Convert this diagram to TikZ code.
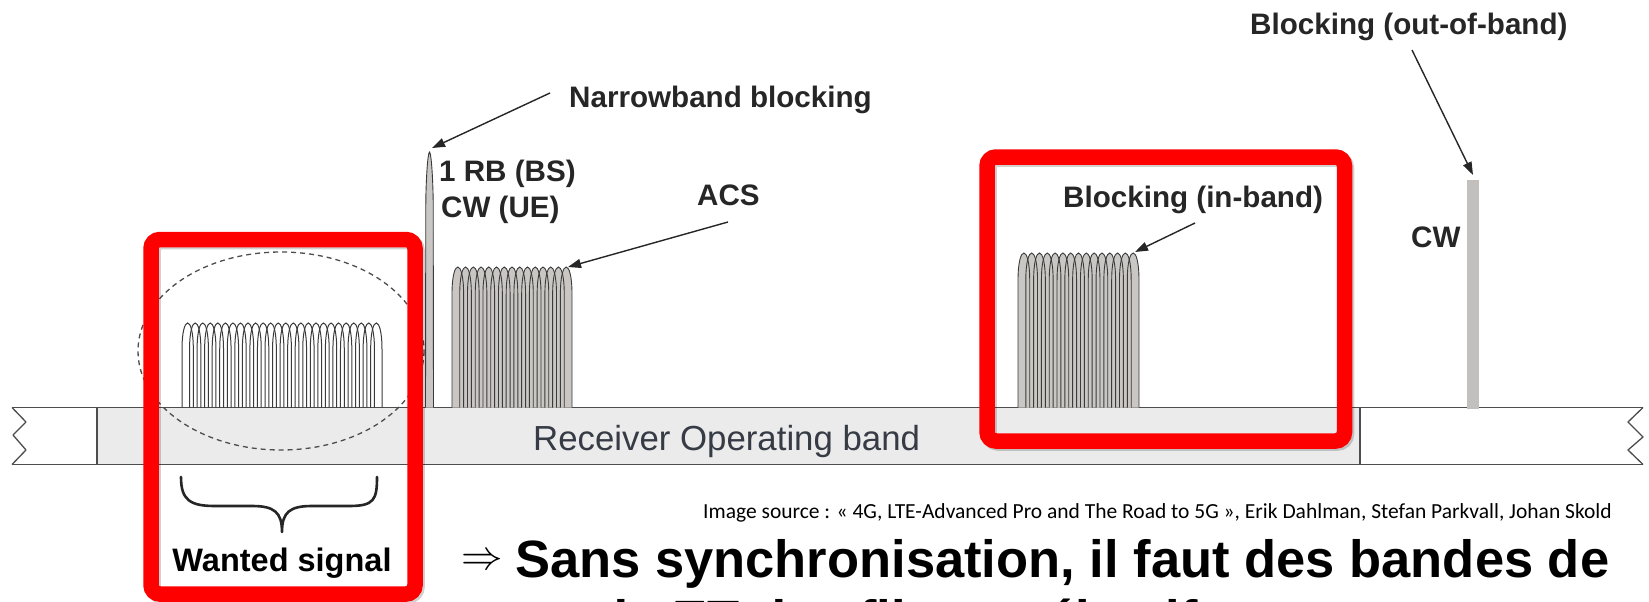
\documentclass[tikz,border=0pt]{standalone}
\usepackage{fontspec}
\setmainfont{Liberation Sans}
\newfontfamily\srcfont{Carlito}
\usetikzlibrary{arrows.meta}

\definecolor{textdark}{HTML}{262626}
\definecolor{bandtext}{HTML}{363B45}
\definecolor{bandfill}{HTML}{EBEBEB}
\definecolor{bandline}{HTML}{4D4D4D}
\definecolor{combgrey}{HTML}{C9C6C3}
\definecolor{combline}{HTML}{3A3A3A}
\definecolor{cwgrey}{HTML}{C2BFBC}
\definecolor{alertred}{HTML}{FF0000}

% one comb of overlapping sub-carrier lobes between x=#1 and x=#2, peak at y=#3
\newcommand\lobes[5]{%
  \pgfmathsetmacro\lobS{(#2-#1)/(#4-1+1.5)}%
  \pgfmathsetmacro\lobW{0.75*\lobS}%
  \pgfmathsetmacro\lobR{3.5*\lobS}%
  \foreach \k in {1,...,#4}{%
    \pgfmathsetmacro\lobC{#1+\lobW+(\k-1)*\lobS}%
    \path[#5] ({\lobC-\lobW},407.5) -- ({\lobC-\lobW},{#3+\lobR})
      .. controls ({\lobC-\lobW},{#3-\lobR/3}) and ({\lobC+\lobW},{#3-\lobR/3})
      .. ({\lobC+\lobW},{#3+\lobR}) -- ({\lobC+\lobW},407.5);
  }%
}

\tikzset{
  lbl/.style={text=textdark, font=\fontsize{29.6}{34}\selectfont\bfseries,
    inner sep=0pt, anchor=base west},
  pointer/.style={draw=textdark, line width=1.4pt,
    -{Triangle[length=13pt,width=9pt]}},
  redbox/.style={draw=alertred, line width=15.5pt, rounded corners=9pt},
  redshadow/.style={draw=black, opacity=0.18, line width=15.5pt, rounded corners=9pt},
  bandedge/.style={draw=bandline, line width=1.3pt},
  combfill/.style={fill=combgrey},
  combdraw/.style={draw=combline, line width=0.9pt},
  wanteddraw/.style={draw=combline, line width=1pt},
}

\begin{document}
\begin{tikzpicture}[x=1pt,y=-1pt]
  \useasboundingbox (0,0) rectangle (1649,602);
  \fill[white] (0,0) rectangle (1649,602);

  % receiver operating band
  \fill[bandfill] (97,407.5) rectangle (1360,464.5);
  \draw[bandedge] (12,407.5) -- (1643,407.5);
  \draw[bandedge] (12,464.5) -- (1643,464.5);
  \draw[bandedge] (97,407.5) -- (97,464.5);
  \draw[bandedge] (1360,407.5) -- (1360,464.5);
  \draw[bandedge, line join=round] (12,407.5) -- (26,422) -- (13,435) -- (26,450) -- (12,464.5);
  \draw[bandedge, line join=round] (1643,407.5) -- (1628,422) -- (1643,437) -- (1628,450) -- (1643,464.5);
  \node[inner sep=0pt, anchor=base west, text=bandtext,
        font=\fontsize{34.8}{38}\selectfont] (bandLbl) at (533,450) {Receiver Operating band};

  % wanted signal
  \lobes{182}{382}{323}{26}{wanteddraw}

  % narrowband blocker
  \path[fill=combgrey, draw=combline, line width=0.9pt]
    (425.5,407.5) -- (425.8,200) .. controls (426.5,165) and (428.5,152) .. (429.5,152)
    .. controls (430.5,152) and (432.5,165) .. (433.2,200) -- (433.5,407.5);

  % adjacent channel
  \lobes{452}{572}{267}{15}{combfill}
  \lobes{452}{572}{267}{15}{combdraw}

  % in-band blocker
  \lobes{1018}{1139}{253}{15}{combfill}
  \lobes{1018}{1139}{253}{15}{combdraw}

  % out-of-band CW blocker
  \fill[cwgrey] (1467,180) rectangle (1479,409);

  % dashed ellipse round the wanted signal
  \draw[bandline, line width=1.3pt, dash pattern=on 5pt off 4pt] (281,351) ellipse [x radius=143, y radius=99];

  % labels
  \node[lbl] (nbLbl) at (569,107) {Narrowband blocking};
  \node[lbl] (rbLbl) at (439,181) {1 RB (BS)};
  \node[lbl] (cwueLbl) at (441,217) {CW (UE)};
  \node[lbl] (acsLbl) at (697,205) {ACS};
  \node[lbl] (ibLbl) at (1063,207) {Blocking (in-band)};
  \node[lbl] (obLbl) at (1250,35) {Blocking (out-of-band)};
  \node[lbl] (cwLbl) at (1411,247) {CW};

  % pointers
  \coordinate (nbTail) at (550,93);   \coordinate (nbTip) at (432,148);
  \coordinate (acsTail) at (728,222); \coordinate (acsTip) at (568,267);
  \coordinate (ibTail) at (1195,223); \coordinate (ibTip) at (1135,252);
  \coordinate (obTail) at (1412,50);  \coordinate (obTip) at (1473,175);
  \draw[pointer] (nbTail) -- (nbTip);
  \draw[pointer] (acsTail) -- (acsTip);
  \draw[pointer] (ibTail) -- (ibTip);
  \draw[pointer] (obTail) -- (obTip);

  % highlight boxes
  \draw[redshadow] (153,241.5) rectangle (417,596);
  \draw[redshadow] (989,159) rectangle (1346.5,443);
  \draw[redbox] (151,239.5) rectangle (415,594);
  \draw[redbox] (987,157) rectangle (1344.5,441);

  % brace under the wanted signal
  \draw[textdark, line width=2.6pt, line cap=round, line join=round]
    (181,477) .. controls (181,500) and (190,506) .. (215,506) -- (252,506)
    .. controls (274,506) and (282,512) .. (282,532)
    .. controls (282,512) and (290,506) .. (312,506) -- (349,506)
    .. controls (374,506) and (377,500) .. (377,477);
  \node[inner sep=0pt, anchor=base, font=\fontsize{32.5}{36}\selectfont\bfseries]
    (wantLbl) at (282,571) {Wanted signal};

  % source line
  \node[inner sep=0pt, anchor=base west, font=\srcfont\fontsize{21.5}{24}\selectfont]
    (srcLbl) at (703,518) {Image source : « 4G, LTE-Advanced Pro and The Road to 5G », Erik Dahlman, Stefan Parkvall, Johan Skold};

  % conclusion
  \node[inner sep=0pt, scale=2, font=\fontsize{20.74}{24}\selectfont] (impl) at (482,562) {$\Rightarrow$};
  \node[inner sep=0pt, anchor=base west, font=\fontsize{52.5}{56}\selectfont\bfseries]
    (concl1) at (515,577) {Sans synchronisation, il faut des bandes de};
  \node[inner sep=0pt, anchor=base west, font=\fontsize{52.5}{56}\selectfont\bfseries]
    (concl2) at (515,637) {garde ET des filtres sélectifs};
\end{tikzpicture}
\end{document}
